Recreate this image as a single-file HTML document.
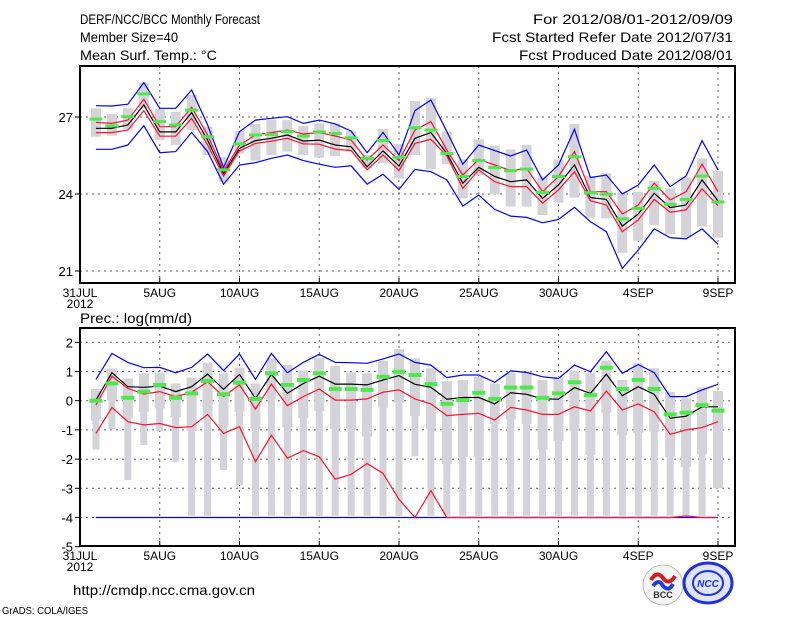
<!DOCTYPE html>
<html><head><meta charset="utf-8">
<style>
body{margin:0;background:#fff;}
svg{display:block;font-family:"Liberation Sans",sans-serif;}
</style></head>
<body>
<svg id="c" width="800" height="618" viewBox="0 0 800 618">
<text x="80" y="24" font-size="14" textLength="180" lengthAdjust="spacingAndGlyphs">DERF/NCC/BCC Monthly Forecast</text>
<text x="80" y="42" font-size="14" textLength="98" lengthAdjust="spacingAndGlyphs">Member Size=40</text>
<text x="80" y="60" font-size="14" textLength="137" lengthAdjust="spacingAndGlyphs">Mean Surf. Temp.: °C</text>
<text x="533" y="24" font-size="14" textLength="200" lengthAdjust="spacingAndGlyphs">For 2012/08/01-2012/09/09</text>
<text x="492" y="42" font-size="14" textLength="241" lengthAdjust="spacingAndGlyphs">Fcst Started Refer Date 2012/07/31</text>
<text x="519" y="60" font-size="14" textLength="214" lengthAdjust="spacingAndGlyphs">Fcst Produced Date 2012/08/01</text>
<text x="80" y="323" font-size="14" textLength="112" lengthAdjust="spacingAndGlyphs">Prec.: log(mm/d)</text>
<text x="73" y="595" font-size="14" textLength="182" lengthAdjust="spacingAndGlyphs">http://cmdp.ncc.cma.gov.cn</text>
<text x="2" y="614" font-size="10" textLength="86" lengthAdjust="spacingAndGlyphs">GrADS: COLA/IGES</text>
<g>
<circle cx="663" cy="585" r="20" fill="#f4f4f4" stroke="#bbb"/>
<path d="M651 580 q6 -10 12 -2 q6 8 12 -2" stroke="#d02020" stroke-width="4" fill="none"/>
<path d="M653 586 q6 -8 10 0 q6 6 10 -2" stroke="#2040d0" stroke-width="4" fill="none"/>
<text x="663" y="598" font-size="9" font-weight="bold" text-anchor="middle" fill="#333">BCC</text>
</g>
<g>
<ellipse cx="708" cy="583" rx="24" ry="20" fill="#dfe4ff" stroke="#2030e0" stroke-width="3"/>
<ellipse cx="708" cy="583" rx="15" ry="12" fill="none" stroke="#2030e0" stroke-width="2"/>
<text x="708" y="587" font-size="10" font-weight="bold" font-style="italic" text-anchor="middle" fill="#2030e0">NCC</text>
</g>
</svg>
<script>
const days=[1,2,3,4,5,6,7,8,9,10,11,12,13,14,15,16,17,18,19,20,21,22,23,24,25,26,27,28,29,30,31,32,33,34,35,36,37,38,39,40];
const xTickLabels=["31JUL","5AUG","10AUG","15AUG","20AUG","25AUG","30AUG","4SEP","9SEP"];
const xTickDays=[0,5,10,15,20,25,30,35,40];
const tTicks=[21,24,27];
const pTicks=[2,1,0,-1,-2,-3,-4,-5];
// Temperature
const tObs=[26.92,26.65,27.01,27.9,26.82,26.69,27.27,26.23,24.94,25.95,26.3,26.32,26.43,26.26,26.42,26.36,26.19,25.39,26.08,25.43,26.58,26.49,25.58,24.68,25.3,25.03,24.91,24.97,24.06,24.68,25.45,24.05,23.99,23.03,23.44,24.22,23.6,23.79,24.7,23.69];
const tMean=[26.56,26.56,26.69,27.47,26.42,26.42,27.17,26.1,24.8,25.78,26.08,26.17,26.3,26.06,26.1,25.91,25.84,25.06,25.68,25.09,26.17,26.39,25.58,24.42,25.04,24.68,24.48,24.55,23.83,24.35,25.13,23.86,23.79,22.75,23.22,24.03,23.47,23.57,24.55,23.73];
const tRedHi=[26.79,26.75,26.88,27.69,26.62,26.62,27.38,26.3,24.9,25.91,26.3,26.39,26.49,26.34,26.39,26.26,26.1,25.32,25.91,25.3,26.49,26.82,25.71,24.74,25.35,25.13,24.91,25.0,24.09,24.68,25.65,24.09,24.09,23.22,23.57,24.42,23.77,24.09,25.16,24.09];
const tRedLo=[26.39,26.39,26.49,27.25,26.25,26.25,26.95,25.91,24.7,25.68,25.97,26.06,26.17,25.95,25.94,25.75,25.69,24.94,25.52,24.91,25.97,26.13,25.48,24.22,24.94,24.48,24.29,24.29,23.64,24.16,24.87,23.74,23.57,22.53,22.99,23.79,23.29,23.38,24.2,23.55];
const tBlueHi=[27.44,27.43,27.5,28.34,27.34,27.34,28.05,26.69,25.03,26.43,26.88,26.95,27.01,26.75,26.88,26.73,26.45,25.61,26.4,25.52,27.25,27.66,26.43,25.16,25.91,25.69,25.48,25.71,24.55,25.13,26.52,24.64,24.74,24.0,24.35,25.13,24.29,24.7,26.08,24.94];
const tBlueLo=[25.74,25.74,25.91,26.66,25.61,25.65,26.4,25.65,24.38,25.13,25.22,25.39,25.52,25.3,25.16,25.04,25.1,24.38,24.77,24.18,24.96,24.87,24.55,23.53,23.96,23.4,23.14,23.09,22.88,23.01,23.48,22.92,22.53,21.1,21.82,22.64,22.3,22.25,22.64,22.04];
const tBoxHi=[27.34,27.12,27.34,28.34,27.3,27.2,27.86,26.62,25.43,26.45,26.73,26.88,26.88,26.65,26.75,26.75,26.45,25.52,26.53,25.95,27.62,27.73,26.43,25.35,26.13,25.87,25.74,25.91,24.68,25.35,26.73,24.7,24.81,24.09,24.09,24.51,24.22,24.65,25.39,24.9];
const tBoxLo=[26.23,26.27,26.53,27.34,26.1,25.91,26.49,25.52,24.48,25.58,25.3,25.52,25.65,25.52,25.42,25.48,25.65,25.0,25.19,24.61,25.52,24.96,25.16,23.83,24.74,23.99,23.51,23.51,23.18,23.66,23.86,23.08,23.05,21.71,22.18,22.79,22.43,22.32,22.73,22.3];
// Precipitation (log)
const pObs=[0,0.59,0.1,0.31,0.54,0.1,0.25,0.68,0.22,0.62,0.06,0.94,0.54,0.71,0.94,0.4,0.4,0.37,0.82,0.99,0.88,0.57,-0.11,0.02,0.27,0.06,0.45,0.45,0.1,0.25,0.63,0.19,1.13,0.4,0.71,0.4,-0.47,-0.41,-0.15,-0.34];
const pMean=[0.02,0.96,0.48,0.46,0.5,0.31,0.48,0.91,0.39,0.9,0.08,0.9,0.25,0.59,0.84,0.57,0.57,0.54,0.71,0.86,0.56,0.46,0.05,0.11,0.11,-0.11,0.27,0.22,0.06,0.05,0.45,0.25,0.91,0.17,0.48,0.22,-0.6,-0.53,-0.21,-0.21];
const pRedHi=[-0.15,0.84,0.42,0.23,0.31,0.14,0.29,0.65,0.14,0.54,-0.29,0.57,-0.17,0.14,0.4,0.02,0.02,0.06,0.29,0.37,0.06,-0.11,-0.51,-0.47,-0.43,-0.66,-0.23,-0.32,-0.47,-0.47,-0.21,-0.35,0.33,-0.32,-0.11,-0.38,-1.15,-1.0,-0.92,-0.72];
const pRedLo=[-1.12,-0.23,-0.72,-0.83,-0.78,-0.92,-0.89,-0.47,-1.12,-0.89,-2.09,-1.18,-1.97,-1.71,-1.92,-2.69,-2.52,-2.15,-2.49,-3.38,-4.0,-3.08,-4,-4,-4,-4,-4,-4,-4,-4,-4,-4,-4,-4,-4,-4,-4,-3.95,-4,-4];
const pBlueHi=[0.73,1.62,1.31,1.13,1.14,0.96,1.14,1.6,1.03,1.6,0.73,1.62,0.96,1.31,1.59,1.31,1.3,1.28,1.43,1.6,1.31,1.22,0.79,0.88,0.88,0.63,1.02,0.97,0.82,0.76,1.22,0.99,1.68,0.94,1.24,0.96,0.14,0.14,0.37,0.56];
const pBlueLo=[-4,-4,-4,-4,-4,-4,-4,-4,-4,-4,-4,-4,-4,-4,-4,-4,-4,-4,-4,-4,-4,-4,-4,-4,-4,-4,-4,-4,-4,-4,-4,-4,-4,-4,-4,-4,-4,-4,-4,-4];
const pBoxHi=[0.4,1.1,0.76,0.94,0.96,0.59,0.79,1.3,0.94,1.13,0.59,1.45,1.22,1.03,1.47,1.19,0.97,0.94,1.37,1.76,1.45,1.11,0.67,0.71,0.82,0.59,0.96,0.99,0.71,0.82,1.03,0.96,1.37,0.71,1.28,1.11,0.29,0.08,0.45,0.33];
const pBoxLo=[-0.68,0.02,-0.6,-0.38,-0.26,-0.57,-1.04,-0.55,-0.89,-0.38,-0.97,0.06,-0.91,-0.6,-0.35,-0.97,-0.97,-1.23,-0.24,-0.07,-0.53,-0.97,-2.17,-1.92,-1.92,-0.8,-0.64,-0.8,-1.67,-1.37,-1.06,-1.86,-0.41,-1.18,-1.1,-1.06,-1.92,-2.28,-1.83,-3.0];
const pWhiskLo=[-1.67,-0.97,-2.72,-1.52,-1.04,-2.09,-3.94,-3.94,-2.37,-2.89,-3.94,-3.94,-3.94,-3.94,-3.94,-3.94,-3.94,-3.94,-3.94,-3.94,-1.9,-3.94,-3.94,-3.94,-3.94,-3.94,-3.94,-3.94,-3.94,-3.94,-3.94,-3.94,-3.94,-3.94,-3.94,-3.94,-3.94,-3.94,-3.94,-3.0];

const NS='http://www.w3.org/2000/svg';
const svg=document.getElementById('c');
const L=80,R=735;
const xS=d=>80+15.95*d;
const yT=v=>194-(v-24)*25.67;
const yP=v=>400.7-v*29.2;
function mk(tag,at,parent){const e=document.createElementNS(NS,tag);for(const k in at)e.setAttribute(k,at[k]);(parent||svg).appendChild(e);return e;}

function panel(name,top,bot,ticks,yF,d){
  const g=mk('g',{});
  
  
  ticks.forEach(t=>{const y=yF(t);
    if(y>top+2&&y<bot-2){const gl=mk('line',{x1:L,x2:R,y1:y,y2:y,stroke:'#666','stroke-dasharray':'2,4','stroke-width':1},g);
      }
    const tk=mk('line',{x1:L-5,x2:L,y1:y,y2:y,stroke:'#000'},g);
    
    const tl=mk('text',{x:L-7,y:y+5,'font-size':13,'text-anchor':'end'},g);tl.textContent=t;
    
  });
  xTickDays.forEach((dd,i)=>{const x=xS(dd);
    if(i>0){const gl=mk('line',{x1:x,x2:x,y1:top,y2:bot,stroke:'#666','stroke-dasharray':'2,4'},g);
      }
    const tk=mk('line',{x1:x,x2:x,y1:bot,y2:bot-5,stroke:'#000'},g);
    
    const tl=mk('text',{x:x,y:bot+14,'font-size':12,'text-anchor':'middle'},g);tl.textContent=xTickLabels[i];
    
  });
  const yr=mk('text',{x:L,y:bot+25,'font-size':12,'text-anchor':'middle'},g);yr.textContent='2012';
  
  days.forEach((dd,i)=>{const x=xS(dd);
    if(d.wl){const w=mk('rect',{x:x-3.5,y:yF(d.bh[i]),width:7,height:Math.max(0,yF(d.wl[i])-yF(d.bh[i])),fill:'#d4d4d8'},g);
      }
    const b=mk('rect',{x:x-5,y:yF(d.bh[i]),width:10,height:Math.max(1,yF(d.bl[i])-yF(d.bh[i])),fill:'#d4d4d8'},g);
    
  });
  const line=(arr,col,nm)=>{const p=mk('polyline',{points:days.map((dd,i)=>xS(dd)+','+yF(arr[i]).toFixed(1)).join(' '),fill:'none',stroke:col,'stroke-width':1.2},g);
    };
  line(d.blo,'#0000ff','min-line');line(d.bhi,'#0000ff','max-line');
  line(d.rlo,'#ff1030','lower-quantile-line');line(d.rhi,'#ff1030','upper-quantile-line');
  line(d.m,'#000','ensemble-mean-line');
  days.forEach((dd,i)=>{const x=xS(dd);
    const o=mk('rect',{x:x-6.5,y:yF(d.o[i])-d.oh/2,width:13,height:d.oh,fill:'#4ee84e'},g);
    });
  const fr=mk('rect',{x:L,y:top,width:R-L,height:bot-top,fill:'none',stroke:'#000','stroke-width':2},g);
  
}
panel('temperature-panel',66,283,tTicks,yT,{o:tObs,m:tMean,rhi:tRedHi,rlo:tRedLo,bhi:tBlueHi,blo:tBlueLo,bh:tBoxHi,bl:tBoxLo,oh:3});
panel('precip-panel',328,546,pTicks,yP,{o:pObs,m:pMean,rhi:pRedHi,rlo:pRedLo,bhi:pBlueHi,blo:pBlueLo,bh:pBoxHi,bl:pBoxLo,wl:pWhiskLo,oh:4});
</script>
</body></html>
